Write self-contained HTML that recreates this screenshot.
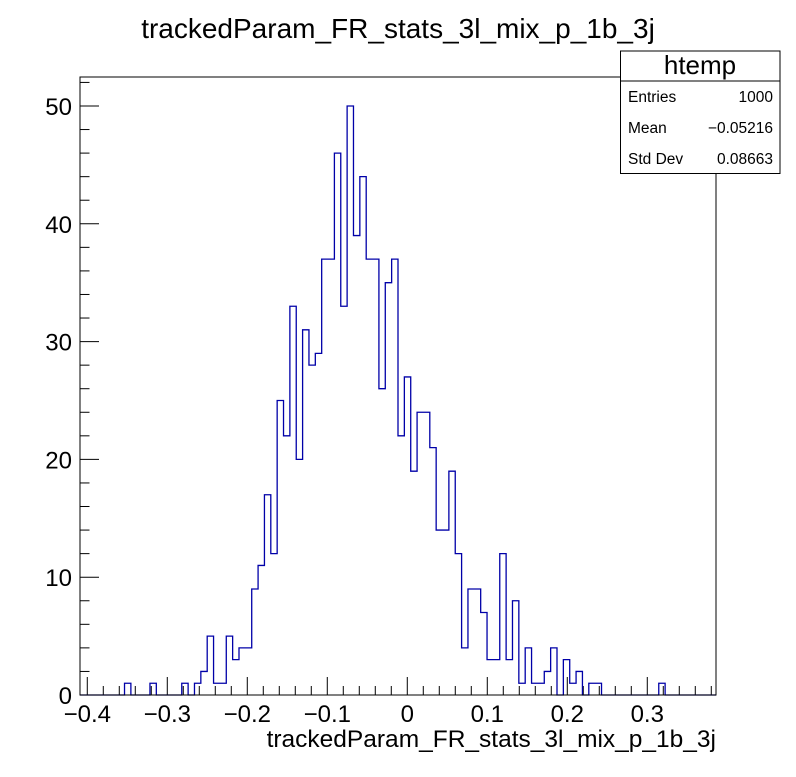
<!DOCTYPE html>
<html><head><meta charset="utf-8"><style>
body{margin:0;background:#fff}
svg text{font-family:"Liberation Sans",Arial,sans-serif}
</style></head><body>
<svg id="chart" width="796" height="772" xmlns="http://www.w3.org/2000/svg">
<rect width="796" height="772" fill="#fff"/>
<text x="398" y="38" font-size="28" text-anchor="middle">trackedParam_FR_stats_3l_mix_p_1b_3j</text>
<g id="axes"></g>
<path id="hist" fill="none" stroke="#0000a8" stroke-width="1.3"/>
<rect x="80" y="77" width="636" height="618" fill="none" stroke="#000" stroke-width="1"/>
<g>
<rect x="620.5" y="51" width="159.5" height="122.5" fill="#fff" stroke="#000" stroke-width="1"/>
<line x1="620.5" y1="81" x2="780" y2="81" stroke="#000"/>
<text x="700" y="74" font-size="26" text-anchor="middle">htemp</text>
<text x="628" y="102" font-size="15.5">Entries</text>
<text x="773" y="102" font-size="15.5" text-anchor="end">1000</text>
<text x="628" y="133" font-size="15.5">Mean</text>
<text x="773" y="133" font-size="15.5" text-anchor="end">−0.05216</text>
<text x="628" y="164" font-size="15.5">Std Dev</text>
<text x="773" y="164" font-size="15.5" text-anchor="end">0.08663</text>
</g>
<text x="716" y="747" font-size="24.5" text-anchor="end">trackedParam_FR_stats_3l_mix_p_1b_3j</text>
</svg>
<script>
const binCounts = [0,0,0,0,0,0,0,1,0,0,0,1,0,0,0,0,1,0,1,2,
5,1,1,5,3,4,4,9,11,17,12,25,22,33,20,31,28,29,37,37,
46,33,50,39,44,37,37,26,35,37,22,27,19,24,24,21,14,14,19,12,
4,9,9,7,3,3,12,3,8,1,4,1,1,2,4,0,3,1,2,0,
1,1,0,0,0,0,0,0,0,0,0,1,0,0,0,0,0,0,0,0];
const xMin = -0.4091, xMax = 0.3859;
const xTickLabels = ["−0.4","−0.3","−0.2","−0.1","0","0.1","0.2","0.3"];
const xTickValues = [-0.4,-0.3,-0.2,-0.1,0,0.1,0.2,0.3];
const yTickValues = [0,10,20,30,40,50];
const yMax = 52.46;
const L=80,R=716,T=77,B=695;
const X=v=>L+(v-xMin)/(xMax-xMin)*(R-L);
const Y=v=>B-v/yMax*(B-T);
const NS="http://www.w3.org/2000/svg";
const axes=document.getElementById('axes');
function ln(x1,y1,x2,y2,name){const e=document.createElementNS(NS,'line');e.setAttribute('x1',x1);e.setAttribute('y1',y1);e.setAttribute('x2',x2);e.setAttribute('y2',y2);e.setAttribute('stroke','#000');e.setAttribute('stroke-width','1');


axes.appendChild(e);}
function tx(x,y,s,anchor,name){const e=document.createElementNS(NS,'text');e.setAttribute('x',x);e.setAttribute('y',y);e.setAttribute('font-size','24');e.setAttribute('text-anchor',anchor);e.textContent=s;


axes.appendChild(e);}
for(let k=-20;k<=19;k++){const v=k*0.02;if(v<xMin||v>xMax)continue;const x=X(v);const major=k%5===0;ln(x,B,x,B-(major?18:9),'x-tick');}
xTickValues.forEach((v,i)=>tx(X(v),722,xTickLabels[i],'middle','x-tick-label'));
for(let v=0;v<=yMax;v+=2){const y=Y(v);const major=v%10===0;ln(L,y,L+(major?19:9.5),y,'y-tick');}
yTickValues.forEach(v=>tx(72,Y(v)+9,String(v),'end','y-tick-label'));
const n=binCounts.length,bw=(xMax-xMin)/n;
let d='M'+X(xMin)+','+Y(0);
binCounts.forEach((c,i)=>{const x0=X(xMin+i*bw),x1=X(xMin+(i+1)*bw);d+=' L'+x0+','+Y(c)+' L'+x1+','+Y(c);});
d+=' L'+X(xMax)+','+Y(0);
document.getElementById('hist').setAttribute('d',d);
</script>
</body></html>
